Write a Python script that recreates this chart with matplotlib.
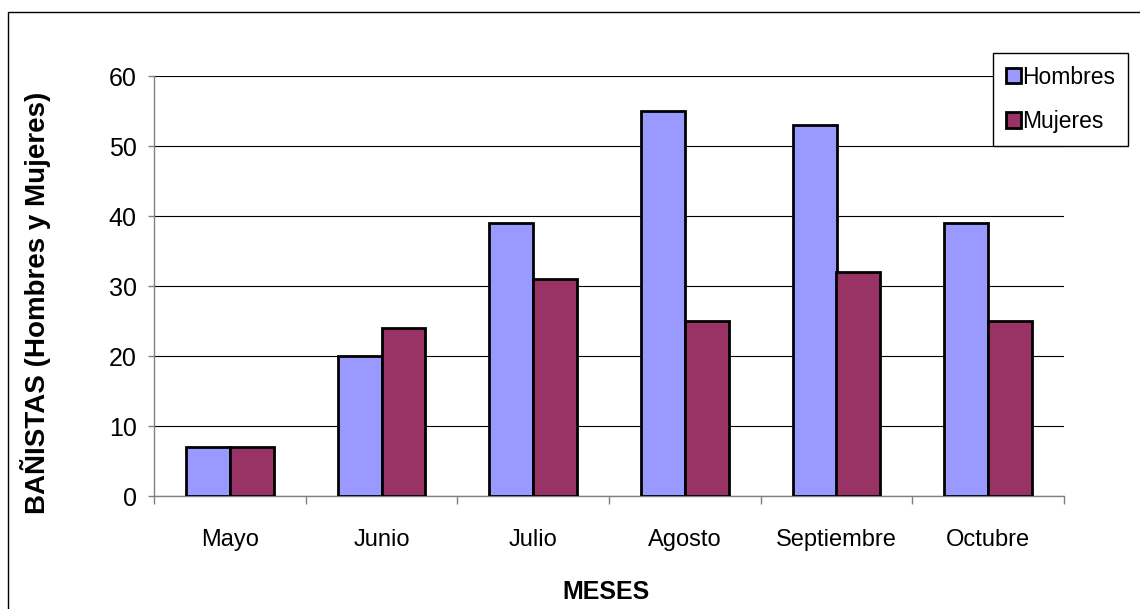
import matplotlib
matplotlib.use("Agg")
import matplotlib.pyplot as plt
from matplotlib.patches import Rectangle
import numpy as np

# Datos del grafico
meses = ["Mayo", "Junio", "Julio", "Agosto", "Septiembre", "Octubre"]
hombres = [7, 20, 39, 55, 53, 39]
mujeres = [7, 24, 31, 25, 32, 25]
y_ticks = [0, 10, 20, 30, 40, 50, 60]

FONT = ["Liberation Sans", "DejaVu Sans"]

W, H = 1140, 609
fig = plt.figure(figsize=(W / 100, H / 100), dpi=100)
fig.patch.set_facecolor("white")

# marco exterior (se sale por la derecha y abajo)
fig.patches.append(Rectangle((8 / W, -0.5), 1.5, 1.5 - 12 / H,
                             transform=fig.transFigure, fill=False,
                             edgecolor="black", linewidth=1.0))

ax = fig.add_axes([154 / W, 1 - 496 / H, (1064 - 154) / W, (496 - 76) / H])

x = np.arange(len(meses))
bw = 0.29
ax.bar(x - bw / 2, hombres, bw, color="#9999FF", edgecolor="black",
       linewidth=2.0, label="Hombres", zorder=3)
ax.bar(x + bw / 2, mujeres, bw, color="#993366", edgecolor="black",
       linewidth=2.0, label="Mujeres", zorder=3)

ax.set_xlim(-0.5, len(meses) - 0.5)
ax.set_ylim(0, 60)
ax.set_yticks(y_ticks)
ax.yaxis.grid(True, color="black", linewidth=0.8, zorder=0)
ax.set_axisbelow(True)

for s in ["top", "right"]:
    ax.spines[s].set_visible(False)
for s in ["left", "bottom"]:
    ax.spines[s].set_color("#808080")
    ax.spines[s].set_linewidth(1.0)

ax.tick_params(axis="y", direction="out", length=4.5, width=1,
               color="#808080", pad=8, labelsize=18)
for lab in ax.get_yticklabels():
    lab.set_family(FONT)

# ticks mayores en los limites de categoria, etiquetas en los centros
ax.set_xticks(np.arange(-0.5, len(meses), 1.0))
ax.set_xticklabels([])
ax.tick_params(axis="x", which="major", direction="out", length=6,
               width=1, color="#808080")
ax.set_xticks(x, minor=True)
ax.set_xticklabels(meses, minor=True, fontsize=17, family=FONT)
ax.tick_params(axis="x", which="minor", length=0, pad=24)

fig.text(36 / W, 1 - 303 / H, "BAÑISTAS (Hombres y Mujeres)",
         rotation=90, ha="center", va="center", fontsize=20,
         fontweight="bold", family=FONT)
fig.text(606 / W, 1 - 592 / H, "MESES", ha="center", va="center",
         fontsize=18, fontweight="bold", family=FONT)

leg = ax.legend(loc="upper left", bbox_to_anchor=(993 / W, 1 - 53 / H),
                bbox_transform=fig.transFigure, frameon=True, fancybox=False,
                edgecolor="black", framealpha=1, borderaxespad=0,
                borderpad=0.55, handlelength=0.68, handleheight=0.68,
                handletextpad=0.05, labelspacing=0.95,
                prop={"family": FONT, "size": 16.5})
leg.get_frame().set_linewidth(1.0)

fig.savefig("out.png", dpi=100)
